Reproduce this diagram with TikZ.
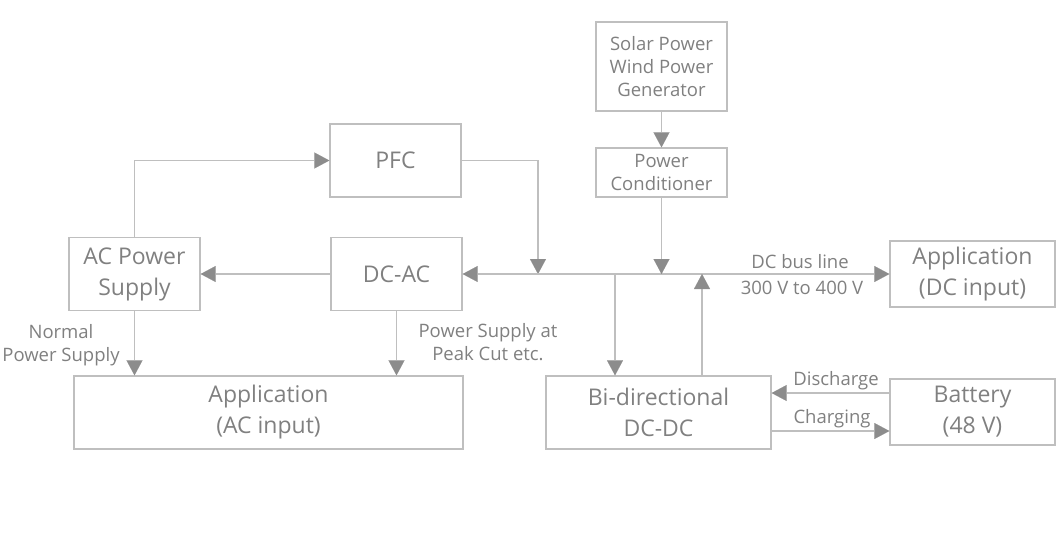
\documentclass[tikz,border=0pt]{standalone}
\usepackage{fontspec}
\setmainfont{Open Sans}
\usetikzlibrary{arrows.meta,calc}
\definecolor{linegray}{HTML}{BFBFBF}
\definecolor{tipgray}{HTML}{8C8C8C}
\definecolor{textgray}{HTML}{808080}
\tikzset{
  box/.style={draw=linegray, line width=1.3pt, text=textgray, align=center, inner sep=0pt,
    font=\fontsize{23}{31}\selectfont},
  lbl/.style={text=textgray, align=center, inner sep=0pt, font=\fontsize{18.5}{23}\selectfont},
  conn/.style={draw=linegray, line width=1.3pt},
  tipstyle/.tip={Triangle[length=15pt,width=16pt,color=tipgray,line width=0.1pt]},
  arr/.style={conn, -tipstyle},
  arrb/.style={conn, tipstyle-tipstyle},
}
\begin{document}
\begin{tikzpicture}[x=1pt,y=-1pt]
\useasboundingbox (0,0) rectangle (1062,536);
\node[box, minimum width=131pt, minimum height=89pt, font=\fontsize{18.5}{23}\selectfont] (solar) at (661.5,66.5) {Solar Power\\Wind Power\\Generator};
\node[box, minimum width=131pt, minimum height=49pt, font=\fontsize{18.5}{23}\selectfont] (pc) at (661.5,172.5) {Power\\Conditioner};
\node[box, minimum width=131pt, minimum height=73pt] (pfc) at (395.5,160.5) {PFC};
\node[box, minimum width=131pt, minimum height=73pt] (dcac) at (396.5,274) {DC-AC};
\node[box, minimum width=131pt, minimum height=73pt] (acps) at (134.5,274) {AC Power\\Supply};
\node[box, minimum width=389pt, minimum height=73pt] (appac) at (268.5,412.5) {Application\\(AC input)};
\node[box, minimum width=225pt, minimum height=73pt] (bidc) at (658.5,412.5) {Bi-directional\\DC-DC};
\node[box, minimum width=165pt, minimum height=66pt] (appdc) at (972.5,274) {Application\\(DC input)};
\node[box, minimum width=165pt, minimum height=66pt] (batt) at (972.5,412) {Battery\\(48 V)};

\coordinate (j1) at (538,274);
\coordinate (j2) at (661.5,274);
\coordinate (j3) at (615,274);
\coordinate (j4) at (702,274);
\coordinate (dis) at (0,393);
\coordinate (chg) at (0,431);

\draw[arr] (acps.north) |- (pfc.west);
\draw[arr] (pfc.east) -| (j1);
\draw[arrb] (dcac.east) -- (appdc.west);
\draw[arr] (solar.south) -- (pc.north);
\draw[arr] (pc.south) -- (j2);
\draw[arr] (j3) -- (bidc.north -| j3);
\draw[arr] (bidc.north -| j4) -- (j4);
\draw[arr] (dcac.west) -- (acps.east);
\draw[arr] (acps.south) -- (appac.north -| acps.south);
\draw[arr] (dcac.south) -- (appac.north -| dcac.south);
\draw[arr] (batt.west |- dis) -- (bidc.east |- dis);
\draw[arr] (bidc.east |- chg) -- (batt.west |- chg);

\node[lbl] (l1) at (61,345) {Normal\\Power Supply};
\node[lbl] (l2) at (488,342) {Power Supply at\\Peak Cut etc.};
\node[lbl] (l3) at (800,262) {DC bus line};
\node[lbl] (l4) at (802,288) {300 V to 400 V};
\node[lbl] (l5) at (836,381) {Discharge};
\node[lbl] (l6) at (832,419) {Charging};
\end{tikzpicture}
\end{document}
